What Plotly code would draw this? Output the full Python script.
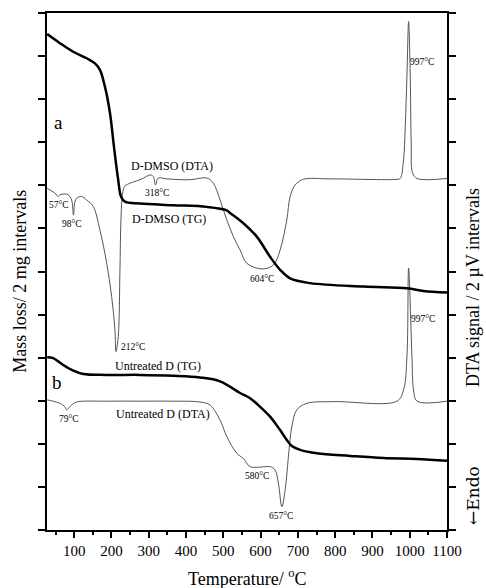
import plotly.graph_objects as go

# ---- data (Temperature °C, signal in tick-interval units) ----
tg_a_T = [27.5, 61.6, 97.3, 133.3, 155.6, 169, 182.4, 195.9, 206.6, 218.1, 225.4, 236.1, 276.4, 365,
          455.5, 509.2, 518, 553.8, 589.7, 625.5, 652.3, 679.2, 732.9, 876, 992.5, 1037, 1100]
tg_a_v = [11.51, 11.30, 11.10, 10.95, 10.83, 10.68, 10.29, 9.68, 8.90, 8.12, 7.74, 7.62, 7.58, 7.54,
          7.50, 7.42, 7.36, 7.12, 6.81, 6.34, 6.04, 5.84, 5.73, 5.65, 5.61, 5.55, 5.51]

dta_a_T = [27.5, 48.2, 57, 61.6, 75, 83.9, 93, 98, 101.9, 108, 119.9, 133.3, 151, 169, 187, 200.4, 209.3,
           212, 218.1, 222.7, 225.4, 230, 236.1, 249.6, 276.4, 294.4, 303.3, 312.1, 318, 325.5, 348,
           410.6, 455.5, 473.2, 491.2, 509.2, 527, 545, 563, 604, 634.3, 652.3, 670.3, 679.2, 692.6,
           714.9, 786.5, 965.6, 974.5, 983.4, 988, 992.5, 997, 1001.4, 1004, 1007.6, 1019.4, 1100]
dta_a_v = [7.93, 7.82, 7.74, 7.78, 7.80, 7.78, 7.66, 7.31, 7.62, 7.71, 7.74, 7.66, 7.51, 6.96, 6.20, 5.42, 4.64,
           4.14, 4.49, 6.04, 7.20, 7.82, 7.98, 8.05, 8.13, 8.21, 8.24, 8.21, 8.01, 8.17, 8.15,
           8.13, 8.17, 8.05, 7.66, 7.20, 6.81, 6.50, 6.19, 6.06, 6.15, 6.50, 7.20, 7.74, 8.01,
           8.14, 8.15, 8.14, 8.16, 8.59, 9.36, 10.52, 11.80, 10.52, 8.98, 8.29, 8.16, 8.16]

tg_b_T = [27.5, 43.6, 70.5, 97.3, 124.2, 187, 276.4, 365.8, 437.5, 491.2, 544.9, 571.7, 598.6, 625.5,
          652.3, 670.3, 683.7, 706, 750.9, 840.3, 929.7, 1019.4, 1100]
tg_b_v = [4.01, 3.99, 3.83, 3.70, 3.62, 3.60, 3.60, 3.58, 3.54, 3.45, 3.18, 3.06, 2.86, 2.63,
          2.32, 2.09, 1.95, 1.86, 1.78, 1.72, 1.67, 1.65, 1.61]

dta_b_T = [27.5, 43.6, 61.6, 75, 79, 93, 106.4, 187, 276.4, 365.8, 437.5, 464.4, 491.2, 509.2, 536,
           553.8, 571.7, 598.6, 625.5, 638.9, 647.8, 657, 665.8, 674.6, 683.7, 697.1, 724, 795.4,
           965.6, 983.4, 992.5, 997, 1006, 1010.3, 1019.4, 1100]
dta_b_v = [3.02, 2.99, 2.94, 2.86, 2.79, 2.90, 2.97, 2.99, 2.99, 2.99, 2.97, 2.90, 2.55, 2.17, 1.78,
           1.66, 1.47, 1.46, 1.47, 1.39, 1.08, 0.54, 0.93, 1.70, 2.40, 2.79, 2.94, 2.98,
           2.99, 3.25, 4.02, 6.08, 4.02, 3.25, 2.99, 2.99]

x_ticks = [100, 200, 300, 400, 500, 600, 700, 800, 900, 1000, 1100]
x_tick_labels = [str(v) for v in x_ticks]

# annotations: (text, T, value, size)
labels = [
    ("a", 57, 9.47, 19),
    ("b", 54, 3.43, 19),
    ("D-DMSO (DTA)", 361, 8.46, 12),
    ("318°C", 321, 7.82, 9.5),
    ("57°C", 58, 7.54, 9.5),
    ("98°C", 95, 7.10, 9.5),
    ("D-DMSO (TG)", 354, 7.21, 12),
    ("212°C", 258, 4.25, 9.5),
    ("604°C", 605, 5.82, 9.5),
    ("997°C", 1033, 10.86, 9.5),
    ("997°C", 1036, 4.90, 9.5),
    ("Untreated D (TG)", 326, 3.81, 12),
    ("Untreated D (DTA)", 339, 2.69, 12),
    ("79°C", 86, 2.58, 9.5),
    ("580°C", 591, 1.25, 9.5),
    ("657°C", 654, 0.33, 9.5),
]

FONT = "Liberation Serif"

fig = go.Figure()
fig.add_trace(go.Scatter(x=dta_a_T, y=dta_a_v, mode="lines", line=dict(color="#555555", width=1),
                         line_shape="spline", showlegend=False))
fig.add_trace(go.Scatter(x=dta_b_T, y=dta_b_v, mode="lines", line=dict(color="#555555", width=1),
                         line_shape="spline", showlegend=False))
fig.add_trace(go.Scatter(x=tg_a_T, y=tg_a_v, mode="lines", line=dict(color="#000000", width=2.5),
                         line_shape="spline", showlegend=False))
fig.add_trace(go.Scatter(x=tg_b_T, y=tg_b_v, mode="lines", line=dict(color="#000000", width=2.5),
                         line_shape="spline", showlegend=False))

for text, tx, ty, sz in labels:
    fig.add_annotation(x=tx, y=ty, xref="x", yref="y", text=text, showarrow=False,
                       font=dict(family=FONT, size=sz, color="#000"))

# axis titles (paper coords relative to plot area)
fig.add_annotation(x=-0.0675, y=0.48, xref="paper", yref="paper", xanchor="center", yanchor="middle",
                   text="Mass loss/ 2 mg intervals", textangle=-90, showarrow=False,
                   font=dict(family=FONT, size=18, color="#000"))
fig.add_annotation(x=1.065, y=0.468, xref="paper", yref="paper", xanchor="center", yanchor="middle",
                   text="DTA signal / 2 µV intervals", textangle=-90, showarrow=False,
                   font=dict(family=FONT, size=18, color="#000"))
fig.add_annotation(x=1.065, y=0.066, xref="paper", yref="paper", xanchor="center", yanchor="middle",
                   text="←Endo", textangle=-90, showarrow=False,
                   font=dict(family="DejaVu Serif", size=17, color="#000"))
fig.add_annotation(x=0.5, y=-0.091, xref="paper", yref="paper", xanchor="center", yanchor="middle",
                   text="Temperature/ <sup>o</sup>C", showarrow=False,
                   font=dict(family=FONT, size=18, color="#000"))

fig.update_xaxes(range=[27, 1100], tickmode="array", tickvals=x_ticks, ticktext=x_tick_labels,
                 ticks="outside", ticklen=6, tickwidth=1.5, tickcolor="#000",
                 minor=dict(dtick=50, tick0=50, ticks="outside", ticklen=3, tickwidth=1.5, tickcolor="#000"),
                 showline=True, linecolor="#000", linewidth=2, mirror=True,
                 showgrid=False, zeroline=False,
                 tickfont=dict(family=FONT, size=15, color="#000"))
fig.update_yaxes(range=[0, 12], dtick=1, tick0=0, ticks="outside", ticklen=7, tickwidth=1.5,
                 tickcolor="#000", showticklabels=False,
                 showline=True, linecolor="#000", linewidth=2, mirror="ticks",
                 showgrid=False, zeroline=False)

fig.update_layout(width=486, height=588, margin=dict(l=47, r=39, t=13, b=58),
                  plot_bgcolor="white", paper_bgcolor="white",
                  font=dict(family=FONT, color="#000"), showlegend=False)

fig.write_html("out.html", config={"displayModeBar": False},
               post_script="document.body.style.margin='0px';")
